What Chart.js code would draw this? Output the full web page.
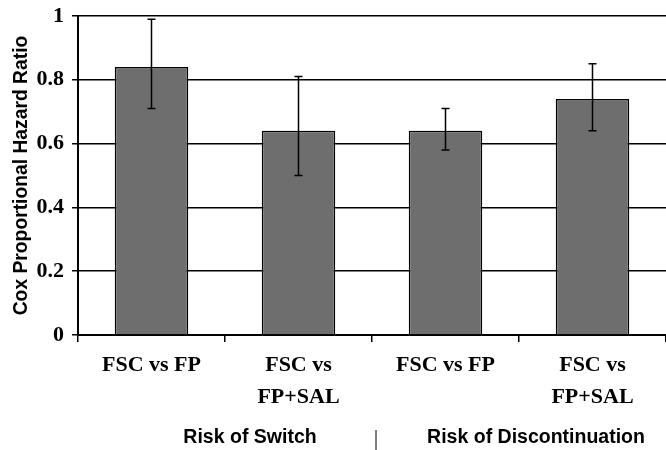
<!DOCTYPE html>
<html>
<head>
<meta charset="utf-8">
<script src="https://cdn.jsdelivr.net/npm/chart.js@4.4.0/dist/chart.umd.min.js"></script>
<style>
  html, body { margin: 0; padding: 0; background: #fff; }
  #wrap { width: 666px; height: 450px; }
</style>
</head>
<body>
<div id="wrap"><canvas id="grafico"></canvas></div>
<script>
var categorias = ["FSC vs FP", ["FSC vs", "FP+SAL"], "FSC vs FP", ["FSC vs", "FP+SAL"]];
var razoes = [0.84, 0.64, 0.64, 0.74];
var erroBaixo = [0.71, 0.50, 0.58, 0.64];
var erroAlto = [0.99, 0.81, 0.71, 0.85];
var grupos = ["Risk of Switch", "Risk of Discontinuation"];

var serif = "'Liberation Serif', 'Times New Roman', serif";
var sans = "'Liberation Sans', Arial, sans-serif";

// error bars drawn over the bars
var barrasErro = {
  id: "barrasErro",
  afterDatasetsDraw: function (chart) {
    var ctx = chart.ctx;
    var meta = chart.getDatasetMeta(0);
    var y = chart.scales.y;
    ctx.save();
    ctx.strokeStyle = "#000";
    ctx.lineWidth = 1.5;
    meta.data.forEach(function (bar, i) {
      var x = bar.x;
      var yHi = y.getPixelForValue(erroAlto[i]);
      var yLo = y.getPixelForValue(erroBaixo[i]);
      ctx.beginPath();
      ctx.moveTo(x, yHi);
      ctx.lineTo(x, yLo);
      ctx.moveTo(x - 4, yHi);
      ctx.lineTo(x + 4, yHi);
      ctx.moveTo(x - 4, yLo);
      ctx.lineTo(x + 4, yLo);
      ctx.stroke();
    });
    ctx.restore();
  }
};

// group labels under the category labels
var rotulosGrupo = {
  id: "rotulosGrupo",
  afterDraw: function (chart) {
    var ctx = chart.ctx;
    var x = chart.scales.x;
    ctx.save();
    ctx.fillStyle = "#000";
    ctx.font = "bold 19.5px " + sans;
    ctx.textAlign = "center";
    ctx.textBaseline = "middle";
    ctx.fillText(grupos[0], x.getPixelForValue(0.5) + 25, 438);
    ctx.fillText(grupos[1], x.getPixelForValue(2.5) + 17, 438);
    var sx = x.getPixelForValue(1.5) + 4;
    ctx.strokeStyle = "#000";
    ctx.lineWidth = 1;
    ctx.beginPath();
    ctx.moveTo(sx, 430);
    ctx.lineTo(sx, 450);
    ctx.stroke();
    ctx.restore();
  }
};

var ctx = document.getElementById("grafico").getContext("2d");
var myChart = new Chart(ctx, {
  type: "bar",
  data: {
    labels: categorias,
    datasets: [
      {
        label: "Cox Proportional Hazard Ratio",
        data: razoes,
        backgroundColor: "#6e6e6e",
        borderColor: "#000",
        borderWidth: 1.5,
        categoryPercentage: 1,
        barPercentage: 0.5,
      },
    ],
  },
  options: {
    responsive: true,
    maintainAspectRatio: false,
    animation: false,
    layout: { padding: { top: 16, right: 0, left: 0, bottom: 0 } },
    plugins: {
      legend: { display: false },
      tooltip: { enabled: false },
    },
    scales: {
      x: {
        grid: {
          offset: true,
          drawOnChartArea: false,
          drawTicks: true,
          tickLength: 7,
          color: "#000",
          lineWidth: 1.5,
        },
        border: { color: "#000", width: 2 },
        ticks: {
          color: "#000",
          font: { family: serif, size: 22, weight: "bold", lineHeight: 1.42 },
          padding: 8,
          maxRotation: 0,
          autoSkip: false,
        },
        afterFit: function (scale) {
          scale.height = 115;
        },
      },
      y: {
        min: 0,
        max: 1,
        ticks: {
          stepSize: 0.2,
          color: "#000",
          font: { family: serif, size: 22, weight: "bold", lineHeight: 0.6 },
          padding: 8,
          callback: function (v) {
            return +v.toFixed(1) + "";
          },
        },
        grid: {
          color: "#000",
          lineWidth: 1.5,
          tickLength: 6,
        },
        border: { color: "#000", width: 2 },
        title: {
          display: true,
          text: "Cox Proportional Hazard Ratio",
          color: "#000",
          font: { family: sans, size: 19.3, weight: "bold" },
          padding: { top: 10, bottom: 0 },
        },
        afterFit: function (scale) {
          scale.width = 78;
        },
      },
    },
  },
  plugins: [barrasErro, rotulosGrupo],
});
</script>
</body>
</html>
